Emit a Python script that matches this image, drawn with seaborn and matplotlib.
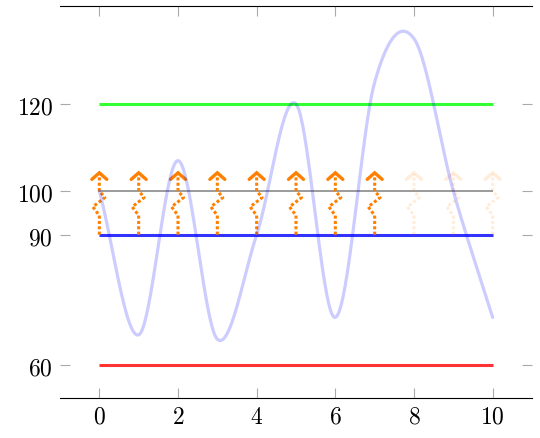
import numpy as np
import pandas as pd
import matplotlib
matplotlib.use("Agg")
import matplotlib.pyplot as plt
import seaborn as sns

# ---- data ----
curve_x = [0, 1, 2, 3, 4, 5, 6, 7, 8, 9, 10]
curve_y = [100, 67, 107, 66, 90, 120, 71, 125, 135, 100, 71]

hline_levels = [120, 100, 90, 60]
hline_colors = ["#33ff33", "#808080", "#3333ff", "#ff3333"]
hline_x = [0, 10]

arrow_x = [0, 1, 2, 3, 4, 5, 6, 7, 8, 9, 10]
arrow_base = [90] * 11
arrow_tip = [104.2] * 11
arrow_alpha = [1, 1, 1, 1, 1, 1, 1, 1, 0.15, 0.15, 0.15]

xticks = [0, 2, 4, 6, 8, 10]
yticks = [60, 90, 100, 120]

# ---- style ----
sns.set_theme(style="white")
plt.rcParams["mathtext.fontset"] = "cm"

fig = plt.figure(figsize=(5.4, 4.39), dpi=100)
ax = fig.add_axes([60 / 540, 1 - 399 / 439, (532 - 60) / 540, (399 - 7) / 439])

# horizontal reference lines
for lvl, col in zip(hline_levels, hline_colors):
    df = pd.DataFrame({"x": hline_x, "y": [lvl, lvl]})
    lw = 1.1 if col == "#808080" else 2.2
    sns.lineplot(data=df, x="x", y="y", ax=ax, color=col, linewidth=lw,
                 solid_capstyle="butt", zorder=2)

# snake arrows
xs_per_px = 1 / 39.5
ys_per_px = 1 / 4.33
orange = "#ff8000"
for x0, b, t, a in zip(arrow_x, arrow_base, arrow_tip, arrow_alpha):
    span = t - b
    px = [x0, x0, x0 - 6.5 * xs_per_px, x0 + 5.5 * xs_per_px, x0, x0]
    py = [b, b + 0.31 * span, b + 0.45 * span, b + 0.60 * span, b + 0.71 * span, t - 0.3]
    ax.plot(px, py, color=orange, alpha=a, linewidth=2.2,
            linestyle=(0, (1.0, 0.75)), dash_capstyle="butt", zorder=3)
    hx = [x0 - 7.5 * xs_per_px, x0, x0 + 7.5 * xs_per_px]
    hy = [t - 6.5 * ys_per_px, t, t - 6.5 * ys_per_px]
    ax.plot(hx, hy, color=orange, alpha=a, linewidth=2.4,
            solid_capstyle="round", solid_joinstyle="miter", zorder=3)

# smooth curve (Catmull-Rom through the data points)
cx = np.asarray(curve_x, float)
cy = np.asarray(curve_y, float)
n = len(cx)
sx, sy = [], []
for i in range(n - 1):
    p0 = i - 1 if i > 0 else 0
    p3 = i + 2 if i + 2 < n else n - 1
    m1 = (cy[i + 1] - cy[p0]) / (cx[i + 1] - cx[p0])
    m2 = (cy[p3] - cy[i]) / (cx[p3] - cx[i])
    h = cx[i + 1] - cx[i]
    t = np.linspace(0, 1, 40, endpoint=(i == n - 2))
    h00 = 2 * t**3 - 3 * t**2 + 1
    h10 = t**3 - 2 * t**2 + t
    h01 = -2 * t**3 + 3 * t**2
    h11 = t**3 - t**2
    sx.extend(cx[i] + t * h)
    sy.extend(h00 * cy[i] + h10 * h * m1 + h01 * cy[i + 1] + h11 * h * m2)
df_curve = pd.DataFrame({"x": sx, "y": sy})
sns.lineplot(data=df_curve, x="x", y="y", ax=ax, color="#0000ff", alpha=0.2,
             linewidth=2.3, sort=False, estimator=None, zorder=4)

# axes
ax.set_xlim(-1, 11)
ax.set_ylim(52.5, 142.5)
ax.set_xticks(xticks, labels=[f"${v}$" for v in xticks])
ax.set_yticks(yticks, labels=[f"${v}$" for v in yticks])
ax.set_xlabel("")
ax.set_ylabel("")
for side in ["left", "right"]:
    ax.spines[side].set_visible(False)
for side in ["top", "bottom"]:
    ax.spines[side].set_visible(True)
    ax.spines[side].set_color("black")
    ax.spines[side].set_linewidth(0.8)
ax.tick_params(axis="both", which="major", direction="in", length=7.5,
               width=0.8, color="#aaaaaa", labelsize=17, labelcolor="black")
ax.tick_params(axis="x", top=True, bottom=True, pad=4)
ax.tick_params(axis="y", left=True, right=True, pad=5)
ax.grid(False)

fig.savefig("out.png", dpi=100)
